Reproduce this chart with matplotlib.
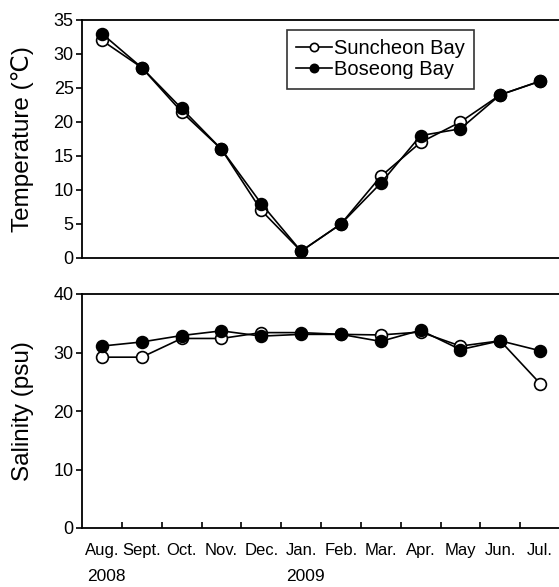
import matplotlib
matplotlib.use("Agg")
import matplotlib.pyplot as plt
from matplotlib.ticker import FixedLocator, NullFormatter

plt.rcParams['font.family'] = ['Liberation Sans', 'DejaVu Sans']

months = ["Aug.", "Sept.", "Oct.", "Nov.", "Dec.", "Jan.", "Feb.", "Mar.", "Apr.", "May", "Jun.", "Jul."]
years = ["2008", "2009"]
year_month_idx = [0, 5]

temp_suncheon = [32, 28, 21.5, 16, 7, 1, 5, 12, 17, 20, 24, 26]
temp_boseong = [33, 28, 22, 16, 8, 1, 5, 11, 18, 19, 24, 26]
sal_suncheon = [29.2, 29.2, 32.4, 32.4, 33.4, 33.4, 33.1, 33.0, 33.5, 31.1, 32.0, 24.7]
sal_boseong = [31.1, 31.8, 32.9, 33.7, 32.8, 33.1, 33.1, 31.9, 33.8, 30.5, 32.0, 30.3]

W, H = 559, 587
fig = plt.figure(figsize=(W / 100, H / 100), dpi=100)

def pos(l, t, r, b):
    return [l / W, 1 - b / H, (r - l) / W, (b - t) / H]

ax1 = fig.add_axes(pos(82, 20, 560, 258))
ax2 = fig.add_axes(pos(82, 294, 560, 528))

x = list(range(len(months)))
open_kw = dict(color='black', lw=1.2, marker='o', ms=8.5, mfc='white', mec='black', mew=1.2)
fill_kw = dict(color='black', lw=1.2, marker='o', ms=8.5, mfc='black', mec='black', mew=1.2)

for ax, s, b in [(ax1, temp_suncheon, temp_boseong), (ax2, sal_suncheon, sal_boseong)]:
    ax.plot(x, s, label='Suncheon Bay', zorder=3, **open_kw)
    ax.plot(x, b, label='Boseong Bay', zorder=4, **fill_kw)
    ax.set_xlim(-0.5, 11.5)
    ax.spines['right'].set_visible(False)
    for sp in ['left', 'top', 'bottom']:
        ax.spines[sp].set_linewidth(1.3)
    ax.tick_params(axis='y', direction='out', length=4, width=1.2, labelsize=13, pad=2)

ax1.set_ylim(0, 35)
ax1.set_yticks([0, 5, 10, 15, 20, 25, 30, 35])
ax1.set_xticks([])
ax1.set_ylabel('Temperature (℃)', fontsize=17.5, labelpad=14)

ax2.set_ylim(0, 40)
ax2.set_yticks([0, 10, 20, 30, 40])
ax2.set_ylabel('Salinity (psu)', fontsize=17.5, labelpad=14)
ax2.xaxis.set_major_locator(FixedLocator([i + 0.5 for i in range(len(months) - 1)]))
ax2.xaxis.set_major_formatter(NullFormatter())
ax2.tick_params(axis='x', which='major', direction='in', length=4, width=1.2)
ax2.set_xticks(x, minor=True)
ax2.set_xticklabels(months, minor=True)
ax2.tick_params(axis='x', which='minor', length=0, labelsize=12, pad=10.5)

for yr, idx in zip(years, year_month_idx):
    ax2.annotate(yr, xy=(idx, 0), xycoords=('data', 'axes fraction'),
                 xytext=(3, -35), textcoords='offset points',
                 ha='center', va='center', fontsize=12.5)

leg = ax1.legend(loc='upper left', bbox_to_anchor=(287 / W, 1 - 30 / H),
                 bbox_transform=fig.transFigure, fontsize=14.5, frameon=True,
                 fancybox=False, edgecolor='black', handlelength=1.8,
                 handletextpad=0.1, borderpad=0.45, labelspacing=0.12,
                 markerscale=0.7, borderaxespad=0)
leg.get_frame().set_linewidth(1.2)

fig.savefig('out.png', dpi=100)
